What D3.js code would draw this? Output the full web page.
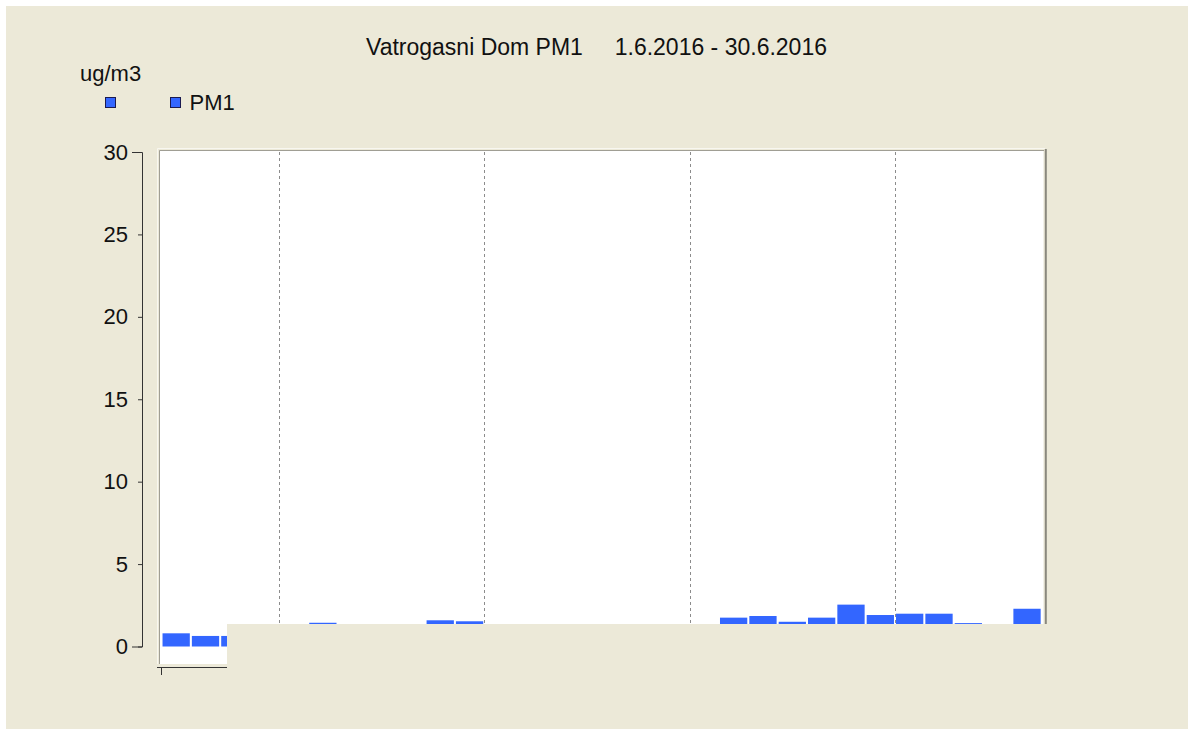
<!DOCTYPE html>
<html>
<head>
<meta charset="utf-8">
<script src="https://cdn.jsdelivr.net/npm/d3@7"></script>
<style>
  body { margin: 0; background: #ffffff; }
  svg { display: block; font-family: "Liberation Sans", Arial, sans-serif; }
</style>
</head>
<body>
<div id="chart-container"></div>
<script>
// June 2016, daily PM1 (ug/m3); values under the covering panel are estimates
const days = d3.range(1, 31).map(d => d + ".6.");
const pm1Values = [0.80, 0.64, 0.64, 0.90, 1.00, 1.44, 1.20, 1.10, 1.20, 1.59,
                   1.53, 1.20, 1.10, 1.00, 1.10, 1.20, 1.00, 1.10, 1.20, 1.75,
                   1.85, 1.50, 1.75, 2.54, 1.91, 1.99, 1.99, 1.42, 1.20, 2.29];
const yTicks = [0, 5, 10, 15, 20, 25, 30];
const weekStarts = ["5.6.", "12.6.", "19.6.", "26.6."];

const svgWidth = 1193;
const svgHeight = 734;
const beige = "#ece9d8";

const svg = d3.select("#chart-container")
    .append("svg")
    .attr("width", svgWidth)
    .attr("height", svgHeight);

svg.append("rect")
    .attr("x", 6).attr("y", 6)
    .attr("width", 1182).attr("height", 723)
    .attr("fill", beige);

const scaleX = d3.scaleBand()
    .domain(days)
    .range([161.5, 1041.7])
    .paddingInner(0.07)
    .paddingOuter(0.035);

const scaleY = d3.scaleLinear()
    .domain([0, 30])
    .range([646.5, 152]);

// title
svg.append("text")
    .attr("x", 366).attr("y", 55)
    .attr("font-size", "23px")
    .attr("fill", "#111")
    .text("Vatrogasni Dom PM1");
svg.append("text")
    .attr("x", 827).attr("y", 55)
    .attr("text-anchor", "end")
    .attr("font-size", "23px")
    .attr("fill", "#111")
    .text("1.6.2016 - 30.6.2016");

// unit + legend
svg.append("text")
    .attr("x", 80).attr("y", 81)
    .attr("font-size", "22px")
    .attr("fill", "#111")
    .text("ug/m3");

[[105.5, ""], [170.5, "PM1"]].forEach(([lx, label]) => {
    svg.append("rect")
        .attr("x", lx).attr("y", 97.5)
        .attr("width", 10).attr("height", 10)
        .attr("fill", "#3366ff")
        .attr("stroke", "#1a1a50");
    svg.append("text")
        .attr("x", lx + 19).attr("y", 110)
        .attr("font-size", "22px")
        .attr("fill", "#111")
        .text(label);
});

// plot frame
svg.append("rect")
    .attr("x", 160).attr("y", 151)
    .attr("width", 884).attr("height", 513)
    .attr("fill", "#ffffff");
svg.append("path")
    .attr("d", "M157.5,664V148.5H1045")
    .attr("fill", "none").attr("stroke", "#f8f7f0");
svg.append("path")
    .attr("d", "M159.5,664V150.5H1044")
    .attr("fill", "none").attr("stroke", "#a09e94");
svg.append("line")
    .attr("x1", 1043.5).attr("x2", 1043.5)
    .attr("y1", 151).attr("y2", 664)
    .attr("stroke", "#f3f2ea");
svg.append("line")
    .attr("x1", 1045.8).attr("x2", 1045.8)
    .attr("y1", 149).attr("y2", 664)
    .attr("stroke", "#8a887e").attr("stroke-width", 2);

// weekly dividers
const half = scaleX.step() * scaleX.paddingInner() / 2;
svg.selectAll(".week")
    .data(weekStarts)
    .enter()
    .append("line")
    .attr("class", "week")
    .attr("x1", d => Math.round(scaleX(d) - half) + 0.5)
    .attr("x2", d => Math.round(scaleX(d) - half) + 0.5)
    .attr("y1", 152).attr("y2", 664)
    .attr("stroke", "#8c8c8c")
    .attr("stroke-dasharray", "3,3");

// bars
svg.selectAll(".bar")
    .data(pm1Values)
    .enter()
    .append("rect")
    .attr("class", "bar")
    .attr("x", (d, i) => scaleX(days[i]))
    .attr("y", d => scaleY(d))
    .attr("width", scaleX.bandwidth())
    .attr("height", d => scaleY(0) - scaleY(d))
    .attr("fill", "#3366ff");

// y axis
const yAxis = svg.append("g")
    .attr("transform", "translate(142,0)")
    .call(d3.axisLeft(scaleY).tickValues(yTicks).tickSizeInner(4).tickSizeOuter(10).tickPadding(10));
yAxis.selectAll("path, line").attr("stroke", "#333");
yAxis.selectAll("text")
    .attr("font-size", "22px")
    .attr("font-family", "Liberation Sans, Arial, sans-serif")
    .attr("fill", "#111");

// x axis
const scaleXLin = d3.scaleLinear().domain([0, 30]).range([161, 1041.7]);
const xAxis = svg.append("g")
    .attr("transform", "translate(0,667)")
    .call(d3.axisBottom(scaleXLin).tickValues([0, 4, 11, 18, 25]).tickSize(8).tickSizeOuter(0).tickFormat(""));
xAxis.select(".domain").attr("d", "M157,0.5H1046");
xAxis.selectAll("path, line").attr("stroke", "#333");

// panel covering the lower part of the chart
svg.append("rect")
    .attr("x", 227).attr("y", 624)
    .attr("width", 840).attr("height", 80)
    .attr("fill", beige);
</script>
</body>
</html>
